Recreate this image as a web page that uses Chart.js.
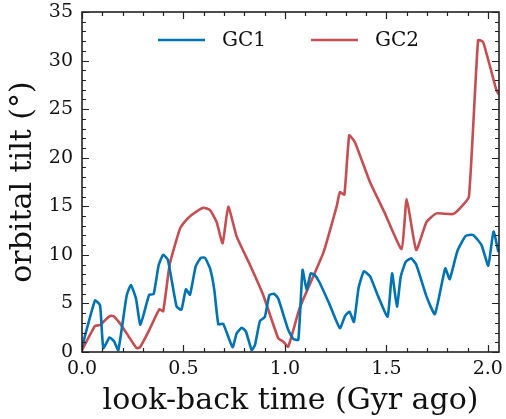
<!DOCTYPE html>
<html>
<head>
<meta charset="utf-8">
<script src="https://cdn.jsdelivr.net/npm/chart.js@4/dist/chart.umd.min.js"></script>
<style>
  html, body { margin: 0; padding: 0; background: #fff; }
  #wrap { width: 506px; height: 419px; }
</style>
</head>
<body>
<div id="wrap"><canvas id="tiltChart" width="506" height="419"></canvas></div>
<script>
// look-back time (Gyr ago) and orbital tilt (deg) for each cluster
const gc1Time = [0.000, 0.064, 0.089, 0.105, 0.136, 0.158, 0.179, 0.220, 0.241, 0.266, 0.288, 0.331, 0.353, 0.378, 0.400, 0.423,
  0.466, 0.490, 0.512, 0.532, 0.560, 0.586, 0.606, 0.631, 0.652, 0.672, 0.696, 0.742, 0.762, 0.787, 0.808, 0.836, 0.852,
  0.877, 0.901, 0.923, 0.946, 0.967, 1.016, 1.041, 1.066, 1.087, 1.107, 1.127, 1.148, 1.172, 1.220, 1.271, 1.296, 1.318,
  1.340, 1.363, 1.389, 1.419, 1.460, 1.506, 1.528, 1.552, 1.571, 1.596, 1.622, 1.647, 1.698, 1.739, 1.790, 1.812, 1.850,
  1.891, 1.928, 1.969, 2.002, 2.028, 2.052];
const gc1Tilt = [0.5, 5.3, 4.8, 0.4, 1.5, 1.1, 0.2, 5.8, 6.9, 5.5, 2.8, 5.9, 5.95, 8.95, 10.0, 9.5,
  4.7, 4.35, 6.45, 5.9, 8.8, 9.7, 9.7, 8.6, 6.4, 2.85, 2.9, 0.5, 1.9, 2.5, 2.1, 0.2, 0.7,
  3.2, 3.6, 5.85, 6.0, 5.5, 2.3, 1.35, 1.25, 8.45, 6.4, 8.1, 7.9, 7.1, 4.9, 2.45, 3.7, 4.15,
  3.1, 6.6, 8.3, 7.8, 5.7, 3.64, 8.1, 4.67, 7.8, 9.3, 9.65, 9.0, 5.7, 3.9, 8.6, 7.5, 10.4,
  11.95, 12.04, 11.0, 8.9, 12.4, 10.3];

const gc2Time = [0.000, 0.064, 0.089, 0.120, 0.138, 0.154, 0.187, 0.230, 0.269, 0.286, 0.330, 0.381, 0.400, 0.433, 0.483,
  0.510, 0.540, 0.598, 0.631, 0.663, 0.693, 0.721, 0.762, 0.828, 0.893, 0.967, 0.992, 1.016, 1.074, 1.189, 1.255, 1.271,
  1.293, 1.317, 1.345, 1.419, 1.490, 1.575, 1.600, 1.647, 1.698, 1.747, 1.829, 1.870, 1.907, 1.952, 1.977, 2.043, 2.055];
const gc2Tilt = [0.2, 2.67, 2.78, 3.4, 3.7, 3.7, 2.95, 1.6, 0.4, 0.5, 2.2, 4.4, 4.2, 9.1, 12.7,
  13.5, 14.1, 14.85, 14.6, 13.4, 11.2, 14.95, 11.9, 8.96, 5.87, 1.41, 1.06, 0.55, 4.6, 10.2, 15.0, 16.45,
  16.2, 22.3, 21.6, 17.5, 14.4, 10.6, 15.75, 10.5, 13.4, 14.27, 14.2, 14.96, 16.0, 32.1, 31.9, 26.9, 26.5];

const seriesNames = ['GC1', 'GC2'];
const seriesColors = ['#0173B2', '#C44E52'];
const xTicks = [0.0, 0.5, 1.0, 1.5, 2.0];
const yTicks = [0, 5, 10, 15, 20, 25, 30, 35];

const serif = "'DejaVu Serif', serif";

function pairs(xs, ys) {
  return xs.map((x, i) => ({ x: x, y: ys[i] }));
}

// matplotlib style: inward ticks on all four sides plus a black frame
const frameTicks = {
  id: 'frameTicks',
  afterDatasetsDraw(chart) {
    const { ctx, chartArea: a, scales: { x, y } } = chart;
    ctx.save();
    ctx.strokeStyle = '#222';
    ctx.lineWidth = 1.2;
    ctx.beginPath();
    for (let v = 0; v <= x.max + 1e-9; v += 0.1) {
      const px = Math.round(x.getPixelForValue(v)) + 0.5;
      const major = xTicks.some(t => Math.abs(t - v) < 1e-6);
      const len = major ? 7 : 4;
      ctx.moveTo(px, a.bottom); ctx.lineTo(px, a.bottom - len);
      ctx.moveTo(px, a.top); ctx.lineTo(px, a.top + len);
    }
    for (let v = 0; v <= y.max + 1e-9; v += 1) {
      const py = Math.round(y.getPixelForValue(v)) + 0.5;
      const major = yTicks.includes(v);
      const len = major ? 7 : 4;
      ctx.moveTo(a.left, py); ctx.lineTo(a.left + len, py);
      ctx.moveTo(a.right, py); ctx.lineTo(a.right - len, py);
    }
    ctx.stroke();
    ctx.lineWidth = 1.6;
    ctx.strokeRect(a.left, a.top, a.right - a.left, a.bottom - a.top);
    ctx.restore();
  },
  afterDraw(chart) {
    // legend inside the axes, top centre
    const { ctx, chartArea: a } = chart;
    ctx.save();
    ctx.font = '20px ' + serif;
    ctx.textBaseline = 'middle';
    const lineLen = 47, gapText = 17, gapItem = 45;
    const widths = seriesNames.map(n => ctx.measureText(n).width);
    let total = 0;
    widths.forEach((w, i) => { total += lineLen + gapText + w + (i ? gapItem : 0); });
    let xPos = (a.left + a.right) / 2 - total / 2 - 2;
    const yPos = a.top + 28;
    chart.data.datasets.forEach((ds, i) => {
      ctx.strokeStyle = ds.borderColor;
      ctx.lineWidth = ds.borderWidth;
      ctx.beginPath();
      ctx.moveTo(xPos, yPos); ctx.lineTo(xPos + lineLen, yPos);
      ctx.stroke();
      ctx.fillStyle = '#111';
      ctx.fillText(ds.label, xPos + lineLen + gapText, yPos + 1);
      xPos += lineLen + gapText + widths[i] + gapItem;
    });
    ctx.restore();
  }
};

const ctx = document.getElementById('tiltChart').getContext('2d');

new Chart(ctx, {
  type: 'line',
  data: {
    datasets: [
      {
        label: seriesNames[0],
        data: pairs(gc1Time, gc1Tilt),
        borderColor: seriesColors[0],
        borderWidth: 2.6,
        pointRadius: 0,
        tension: 0.15,
        fill: false
      },
      {
        label: seriesNames[1],
        data: pairs(gc2Time, gc2Tilt),
        borderColor: seriesColors[1],
        borderWidth: 2.6,
        pointRadius: 0,
        tension: 0.15,
        fill: false
      }
    ]
  },
  options: {
    responsive: false,
    animation: false,
    layout: { padding: { top: 12, right: 7, left: 0, bottom: 0 } },
    plugins: {
      legend: { display: false },
      tooltip: { enabled: false }
    },
    scales: {
      x: {
        type: 'linear',
        min: 0,
        max: 2.055,
        afterFit: s => { s.height = 67; s.paddingLeft = 0; s.paddingRight = 0; },
        afterBuildTicks: s => { s.ticks = xTicks.map(v => ({ value: v })); },
        grid: { display: false, drawTicks: false },
        border: { display: false },
        ticks: {
          padding: 6,
          color: '#111',
          font: { family: serif, size: 19 },
          callback: v => v.toFixed(1)
        },
        title: {
          display: true,
          text: 'look-back time (Gyr ago)',
          color: '#111',
          font: { family: serif, size: 30 },
          padding: { top: 0, bottom: 0 }
        }
      },
      y: {
        min: 0,
        max: 35,
        afterFit: s => { s.width = 82; s.paddingTop = 0; s.paddingBottom = 0; },
        afterBuildTicks: s => { s.ticks = yTicks.map(v => ({ value: v })); },
        grid: { display: false, drawTicks: false },
        border: { display: false },
        ticks: {
          padding: 9,
          color: '#111',
          font: { family: serif, size: 19 }
        },
        title: {
          display: true,
          text: 'orbital tilt (°)',
          color: '#111',
          font: { family: serif, size: 30 },
          padding: { top: 5, bottom: 0 }
        }
      }
    }
  },
  plugins: [frameTicks]
});
</script>
</body>
</html>
